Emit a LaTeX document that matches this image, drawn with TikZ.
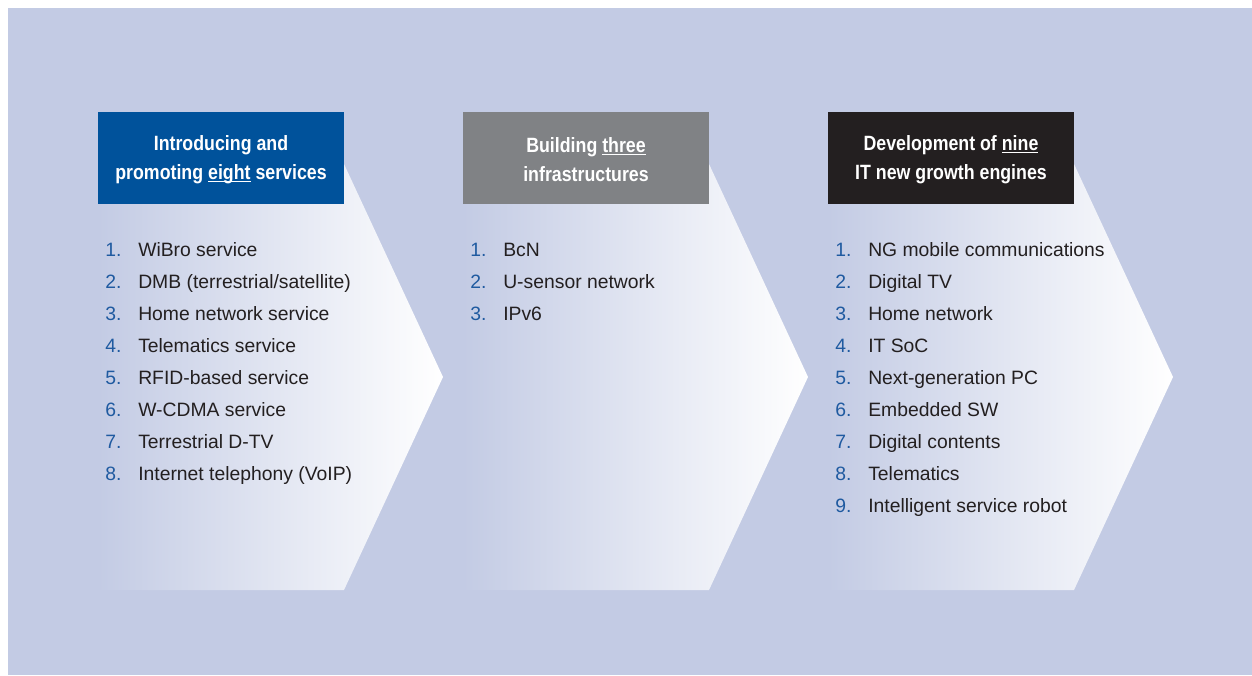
\documentclass[tikz,border=0pt]{standalone}
\usepackage{fontspec}
\setmainfont{Liberation Sans}
\newfontfamily\headfont[FakeStretch=0.86]{Liberation Sans}
\usetikzlibrary{positioning}
\definecolor{bgblue}{RGB}{195,203,228}
\definecolor{headblue}{RGB}{0,82,155}
\definecolor{headgray}{RGB}{128,130,133}
\definecolor{headblack}{RGB}{35,31,32}
\definecolor{numblue}{RGB}{31,90,160}
\definecolor{itemgray}{RGB}{35,31,32}
\newcommand{\itemnum}[1]{\makebox[24.75pt][l]{\textcolor{numblue}{#1}}}
\newcommand{\headline}[1]{\underline{\smash{#1}}}

\begin{document}
\begin{tikzpicture}[x=0.75pt, y=-0.75pt,
    chevron/.style={left color=bgblue, right color=white, draw=none},
    headbox/.style={minimum width=184.5pt, minimum height=69pt, inner sep=0pt,
        align=center, text=white, font=\headfont\bfseries\fontsize{15.5}{21.75}\selectfont},
    listitem/.style={anchor=base west, inner sep=0pt, text=itemgray,
        font=\fontsize{14.5}{17}\selectfont}]
    \useasboundingbox (0, 0) rectangle (1252, 675);
    % Background panel.
    \fill[bgblue] (8, 8) rectangle (1252, 675);
    % Chevrons.
    \shade[chevron] (98, 164) -- (344, 164) -- (443, 377) -- (344, 590) -- (98, 590) -- cycle;
    \shade[chevron] (463, 164) -- (709, 164) -- (808, 377) -- (709, 590) -- (463, 590) -- cycle;
    \shade[chevron] (828, 164) -- (1074, 164) -- (1173, 377) -- (1074, 590) -- (828, 590) -- cycle;
    % Headers.
    \node[headbox, fill=headblue] (services) at (221, 158) {};
    \node[headbox, fill=headgray] (infra) at (586, 158) {};
    \node[headbox, fill=headblack] (engines) at (951, 158) {};
    \node[headbox, minimum height=0pt] (services-text) at (services.center) [yshift=-1.5pt] {Introducing and\\promoting \headline{eight} services};
    \node[headbox, minimum height=0pt] (infra-text) at (infra.center) [yshift=-1.5pt] {Building \headline{three}\\infrastructures};
    \node[headbox, minimum height=0pt] (engines-text) at (engines.center) [yshift=-1.5pt] {Development of \headline{nine}\\IT new growth engines};
    % Services.
    \node[listitem] (s1) at (105, 256) {\itemnum{1.}WiBro service};
    \node[listitem] (s2) at (105, 288) {\itemnum{2.}DMB (terrestrial/satellite)};
    \node[listitem] (s3) at (105, 320) {\itemnum{3.}Home network service};
    \node[listitem] (s4) at (105, 352) {\itemnum{4.}Telematics service};
    \node[listitem] (s5) at (105, 384) {\itemnum{5.}RFID-based service};
    \node[listitem] (s6) at (105, 416) {\itemnum{6.}W-CDMA service};
    \node[listitem] (s7) at (105, 448) {\itemnum{7.}Terrestrial D-TV};
    \node[listitem] (s8) at (105, 480) {\itemnum{8.}Internet telephony (VoIP)};
    % Infrastructures.
    \node[listitem] (i1) at (470, 256) {\itemnum{1.}BcN};
    \node[listitem] (i2) at (470, 288) {\itemnum{2.}U-sensor network};
    \node[listitem] (i3) at (470, 320) {\itemnum{3.}IPv6};
    % Growth engines.
    \node[listitem] (e1) at (835, 256) {\itemnum{1.}NG mobile communications};
    \node[listitem] (e2) at (835, 288) {\itemnum{2.}Digital TV};
    \node[listitem] (e3) at (835, 320) {\itemnum{3.}Home network};
    \node[listitem] (e4) at (835, 352) {\itemnum{4.}IT SoC};
    \node[listitem] (e5) at (835, 384) {\itemnum{5.}Next-generation PC};
    \node[listitem] (e6) at (835, 416) {\itemnum{6.}Embedded SW};
    \node[listitem] (e7) at (835, 448) {\itemnum{7.}Digital contents};
    \node[listitem] (e8) at (835, 480) {\itemnum{8.}Telematics};
    \node[listitem] (e9) at (835, 512) {\itemnum{9.}Intelligent service robot};
\end{tikzpicture}
\end{document}
